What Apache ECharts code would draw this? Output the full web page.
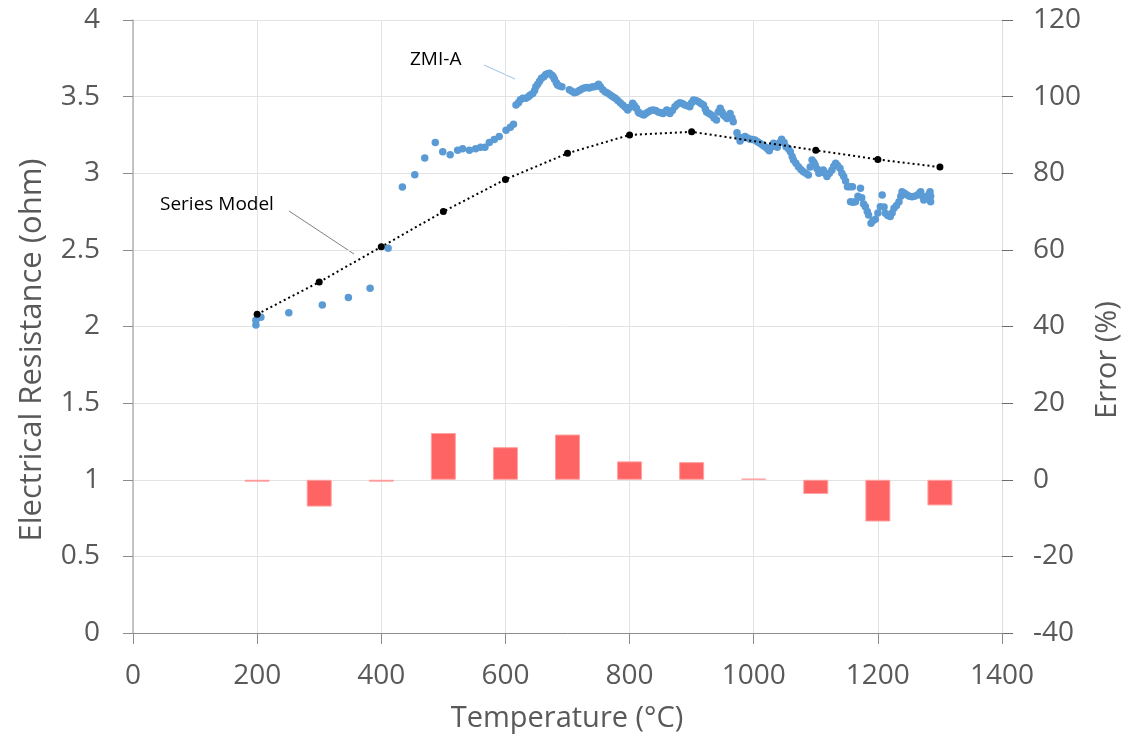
<!DOCTYPE html>
<html>
<head>
<meta charset="utf-8">
<script src="https://cdn.jsdelivr.net/npm/echarts@6/dist/echarts.min.js"></script>
<style>
html,body{margin:0;padding:0;background:#fff;}
#c{width:1135px;height:743px;}
</style>
</head>
<body>
<div id="c"></div>
<script>
// Measured data: ZMI-A (temperature °C, resistance ohm)
var zmiA = [
[198,2.01],[198,2.04],[206,2.06],[251,2.09],[305,2.14],[347,2.19],[382,2.25],[411,2.51],[434,2.91],[454,2.99],
[470,3.10],[487,3.20],[499,3.14],[511,3.12],[523,3.15],[531,3.16],[542,3.15],[552,3.16],[560,3.17],[567,3.17],
[574,3.20],[582,3.22],[590,3.24],[601,3.28],[608,3.30],[613,3.32],
[617,3.445],[621,3.46],[624,3.48],[628,3.49],[633,3.49],[637,3.50],[640,3.51],[644,3.52],[647,3.54],[649,3.565],
[652,3.58],[655,3.60],[658,3.62],[662,3.63],[665,3.645],[668,3.65],[671,3.652],[675,3.64],[677,3.63],[679,3.613],
[682,3.59],[684,3.576],[687,3.57],[691,3.565],[703,3.545],[707,3.535],[711,3.526],[715,3.53],[719,3.54],[723,3.55],
[727,3.556],[731,3.56],[735,3.556],[739,3.562],[743,3.565],[747,3.57],[750,3.58],[753,3.565],[757,3.545],[761,3.53],
[765,3.522],[769,3.51],[773,3.50],[777,3.49],[781,3.475],[785,3.46],[789,3.445],[793,3.43],[797,3.413],[801,3.43],
[805,3.456],[808,3.44],[811,3.424],[814,3.40],[816,3.391],[820,3.385],[823,3.38],[826,3.39],[830,3.40],[834,3.41],
[838,3.413],[842,3.41],[846,3.40],[850,3.395],[854,3.39],[857,3.40],[860,3.413],[863,3.40],[865,3.39],[869,3.41],
[873,3.434],[877,3.45],[881,3.46],[885,3.455],[889,3.445],[893,3.44],[897,3.434],[900,3.46],[903,3.478],[907,3.475],
[911,3.467],[915,3.455],[919,3.445],[922,3.42],[924,3.40],[928,3.39],[932,3.38],[936,3.36],[940,3.347],[943,3.40],
[946,3.424],[949,3.40],[951,3.38],[954,3.37],[957,3.358],[960,3.375],[962,3.39],[965,3.36],[967,3.336],
[973,3.265],[975,3.24],[978,3.21],[982,3.23],[986,3.239],[990,3.23],[994,3.222],[998,3.22],[1002,3.217],[1006,3.205],
[1010,3.196],[1014,3.185],[1018,3.173],[1022,3.16],[1025,3.147],[1028,3.17],[1032,3.196],[1035,3.18],[1038,3.169],[1042,3.20],
[1045,3.222],[1049,3.20],[1052,3.173],[1056,3.16],[1059,3.141],[1062,3.11],[1064,3.087],[1068,3.065],[1072,3.043],[1076,3.025],
[1080,3.01],[1084,3.00],[1088,2.989],[1091,3.04],[1094,3.087],[1097,3.07],[1099,3.054],[1102,3.03],[1105,3.00],[1108,3.01],
[1112,3.021],[1115,3.00],[1118,2.978],[1122,3.00],[1126,3.021],[1129,3.045],[1132,3.065],[1135,3.05],[1139,3.032],[1142,3.00],
[1145,2.978],[1148,2.95],[1151,2.912],[1155,2.912],[1159,2.912],[1156,2.814],[1160,2.81],[1164,2.814],[1168,2.85],[1172,2.902],
[1174,2.84],[1177,2.80],[1180,2.782],[1183,2.75],[1185,2.728],[1189,2.673],[1192,2.69],[1196,2.70],[1200,2.74],[1204,2.782],
[1207,2.858],[1210,2.78],[1212,2.739],[1216,2.725],[1220,2.717],[1223,2.74],[1226,2.771],[1230,2.79],[1234,2.814],[1237,2.85],
[1239,2.88],[1243,2.87],[1247,2.858],[1251,2.85],[1255,2.847],[1259,2.85],[1264,2.858],[1267,2.87],[1269,2.88],[1272,2.85],
[1274,2.825],[1277,2.835],[1280,2.847],[1282,2.86],[1284,2.88],[1285,2.814],[1285,2.85]
];

// Series model (temperature °C, resistance ohm)
var modelTemps = [200,300,400,500,600,700,800,900,1000,1100,1200,1300];
var modelValues = [2.08,2.29,2.52,2.75,2.96,3.13,3.25,3.27,3.21,3.15,3.09,3.04];
var hiddenMarkerTemps = [1000];

// Error (%) at each model temperature
var errorTemps = [200,300,400,500,600,700,800,900,1000,1100,1200,1300];
var errorValues = [-0.5,-7.0,-0.5,12.2,8.5,11.8,4.8,4.6,0.3,-3.7,-10.9,-6.7];

var FONT = '"Open Sans", "Noto Sans", sans-serif';
var GREY = '#595959';

var chart = echarts.init(document.getElementById('c'), null, {renderer:'canvas'});

var modelData = modelTemps.map(function(t,i){
  var d = {value:[t, modelValues[i]]};
  if (hiddenMarkerTemps.indexOf(t) >= 0) d.symbol = 'none';
  return d;
});
var errorData = errorTemps.map(function(t,i){ return [t, errorValues[i]]; });

chart.setOption({
  animation:false,
  backgroundColor:'#ffffff',
  grid:{left:133, right:133, top:20, bottom:110, containLabel:false},
  xAxis:{
    type:'value', min:0, max:1400, interval:200,
    axisLine:{show:true, onZero:false, lineStyle:{color:'#8c8c8c', width:1}},
    axisTick:{show:true, inside:false, length:11, lineStyle:{color:'#8c8c8c'}},
    axisLabel:{color:GREY, fontFamily:FONT, fontSize:28, margin:29, formatter:function(v){return String(v);}},
    splitLine:{show:true, lineStyle:{color:'#e3e3e3', width:1}}
  },
  yAxis:[{
    type:'value', min:0, max:4, interval:0.5, position:'left',
    axisLine:{show:true, onZero:false, lineStyle:{color:'#b3b3b3', width:1.5}},
    axisTick:{show:true, inside:false, length:10, lineStyle:{color:'#8c8c8c'}},
    axisLabel:{color:GREY, fontFamily:FONT, fontSize:28, margin:33},
    splitLine:{show:true, lineStyle:{color:'#e3e3e3', width:1}}
  },{
    type:'value', min:-40, max:120, interval:20, position:'right',
    axisLine:{show:true, onZero:false, lineStyle:{color:'#dedede', width:1}},
    axisTick:{show:true, inside:false, length:11, lineStyle:{color:'#6b6b6b'}},
    axisLabel:{color:GREY, fontFamily:FONT, fontSize:28, margin:31},
    splitLine:{show:false}
  }],
  series:[{
    name:'Error',
    type:'bar',
    yAxisIndex:1,
    data:errorData,
    barWidth:25,
    itemStyle:{color:'#ff6464', borderColor:'#ffa0a0', borderWidth:1},
    z:2
  },{
    name:'ZMI-A',
    type:'scatter',
    data:zmiA,
    symbolSize:7.5,
    itemStyle:{color:'#5b9bd5', opacity:1},
    z:3
  },{
    name:'Series Model',
    type:'line',
    data:modelData,
    symbol:'circle',
    symbolSize:7,
    showSymbol:true,
    itemStyle:{color:'#000000'},
    lineStyle:{color:'#000000', width:2, type:[2,3]},
    z:4
  }],
  graphic:[
    {type:'text', x:32, y:350, rotation:Math.PI/2,
      style:{text:'Electrical Resistance (ohm)', fill:GREY, font:'31px '+FONT, textAlign:'center', textVerticalAlign:'middle'}},
    {type:'text', x:1108, y:360, rotation:Math.PI/2,
      style:{text:'Error (%)', fill:GREY, font:'29px '+FONT, textAlign:'center', textVerticalAlign:'middle'}},
    {type:'text', x:567, y:719,
      style:{text:'Temperature (°C)', fill:GREY, font:'29px '+FONT, textAlign:'center', textVerticalAlign:'middle'}},
    {type:'text', x:410, y:60,
      style:{text:'ZMI-A', fill:'#000000', font:'19px '+FONT, textAlign:'left', textVerticalAlign:'middle'}},
    {type:'line', shape:{x1:484, y1:65, x2:515, y2:79}, style:{stroke:'#9dc3e6', lineWidth:1}},
    {type:'text', x:160, y:205,
      style:{text:'Series Model', fill:'#000000', font:'19px '+FONT, textAlign:'left', textVerticalAlign:'middle'}},
    {type:'line', shape:{x1:289, y1:211, x2:354, y2:254}, style:{stroke:'#808080', lineWidth:1}}
  ]
});
</script>
</body>
</html>
